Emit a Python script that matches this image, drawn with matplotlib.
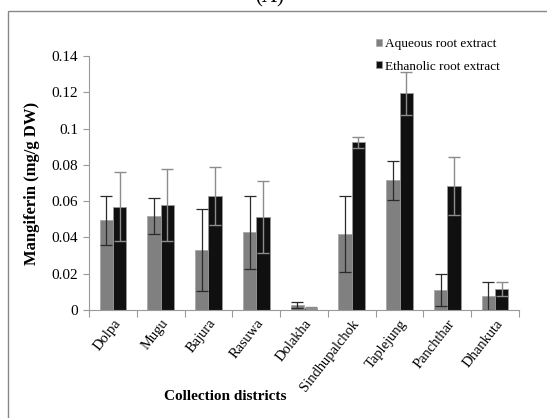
import numpy as np
import matplotlib
matplotlib.use('Agg')
import matplotlib.pyplot as plt
from matplotlib.patches import Rectangle, Patch
from matplotlib.ticker import FuncFormatter, FixedLocator

plt.rcParams['font.family'] = ['Liberation Serif', 'DejaVu Serif']

# data (mg/g DW)
districts = ['Dolpa', 'Mugu', 'Bajura', 'Rasuwa', 'Dolakha',
             'Sindhupalchok', 'Taplejung', 'Panchthar', 'Dhankuta']
aqueous = [0.0494, 0.0518, 0.0331, 0.0428, 0.0028, 0.0419, 0.0716, 0.0110, 0.0077]
aqueous_err = [0.0134, 0.0098, 0.0224, 0.0202, 0.0018, 0.0210, 0.0107, 0.0090, 0.0076]
ethanolic = [0.0569, 0.0578, 0.0630, 0.0514, 0.0011, 0.0924, 0.1194, 0.0683, 0.0116]
ethanolic_err = [0.0191, 0.0200, 0.0160, 0.0198, 0.0004, 0.0030, 0.0120, 0.0162, 0.0037]
yticks = [0, 0.02, 0.04, 0.06, 0.08, 0.1, 0.12, 0.14]

W, H = 547, 418
fig = plt.figure(figsize=(W / 100, H / 100), dpi=100)
ax = fig.add_axes([89 / W, (H - 310) / H, (519 - 89) / W, (310 - 56) / H])

x = np.arange(len(districts))
bw = 0.28
ax.bar(x - bw / 2, aqueous, bw, color='#808080', edgecolor='#a8a8a8', linewidth=0.6,
       yerr=aqueous_err, ecolor='#2a2a2a', capsize=4,
       error_kw={'elinewidth': 0.9, 'capthick': 0.9})
ax.bar(x + bw / 2, ethanolic, bw, color='#101010', edgecolor='#9a9a9a', linewidth=0.6,
       yerr=ethanolic_err, ecolor='#8c8c8c', capsize=4,
       error_kw={'elinewidth': 1.0, 'capthick': 1.0})

ax.set_xlim(-0.5, len(districts) - 0.5)
ax.set_ylim(0, 0.14)
ax.set_yticks(yticks)
ax.yaxis.set_major_formatter(FuncFormatter(lambda v, p: '%g' % v))

ax.set_xticks(x)
ax.set_xticklabels(districts, rotation=52, ha='right', va='top',
                   rotation_mode='anchor', fontsize=10.5)
ax.xaxis.set_minor_locator(FixedLocator(np.arange(-0.5, len(districts), 1.0)))
ax.tick_params(axis='x', which='major', length=0, pad=5)
ax.tick_params(axis='x', which='minor', length=5, color='#999999', width=0.8)
ax.tick_params(axis='y', length=4, color='#999999', width=0.8, pad=4, labelsize=11)

for s in ['top', 'right']:
    ax.spines[s].set_visible(False)
for s in ['left', 'bottom']:
    ax.spines[s].set_color('#999999')
    ax.spines[s].set_linewidth(0.8)

ax.set_ylabel('Mangiferin (mg/g DW)', fontsize=12, fontweight='bold', labelpad=8)
fig.text(225 / W, 21 / H, 'Collection districts', fontsize=11, fontweight='bold',
         ha='center', va='center')

handles = [Patch(facecolor='#808080', edgecolor='#a8a8a8', linewidth=0.5),
           Patch(facecolor='#101010', edgecolor='#9a9a9a', linewidth=0.5)]
fig.legend(handles, ['Aqueous root extract', 'Ethanolic root extract'],
           loc='upper left', bbox_to_anchor=(376 / W, (H - 38) / H),
           frameon=False, fontsize=9.5, handlelength=0.45, handleheight=0.45,
           handletextpad=0.25, labelspacing=0.8, borderaxespad=0, borderpad=0)

# outer frame and cut-off panel label
fig.patches.append(Rectangle((8 / W, -0.05), 1.1, (H - 10.5) / H + 0.05,
                             transform=fig.transFigure, fill=False,
                             edgecolor='#888888', linewidth=1.0))
fig.text(270 / W, (H - 7) / H, '(A)', fontsize=15, ha='center', va='bottom')

fig.savefig('out.png', dpi=100)
